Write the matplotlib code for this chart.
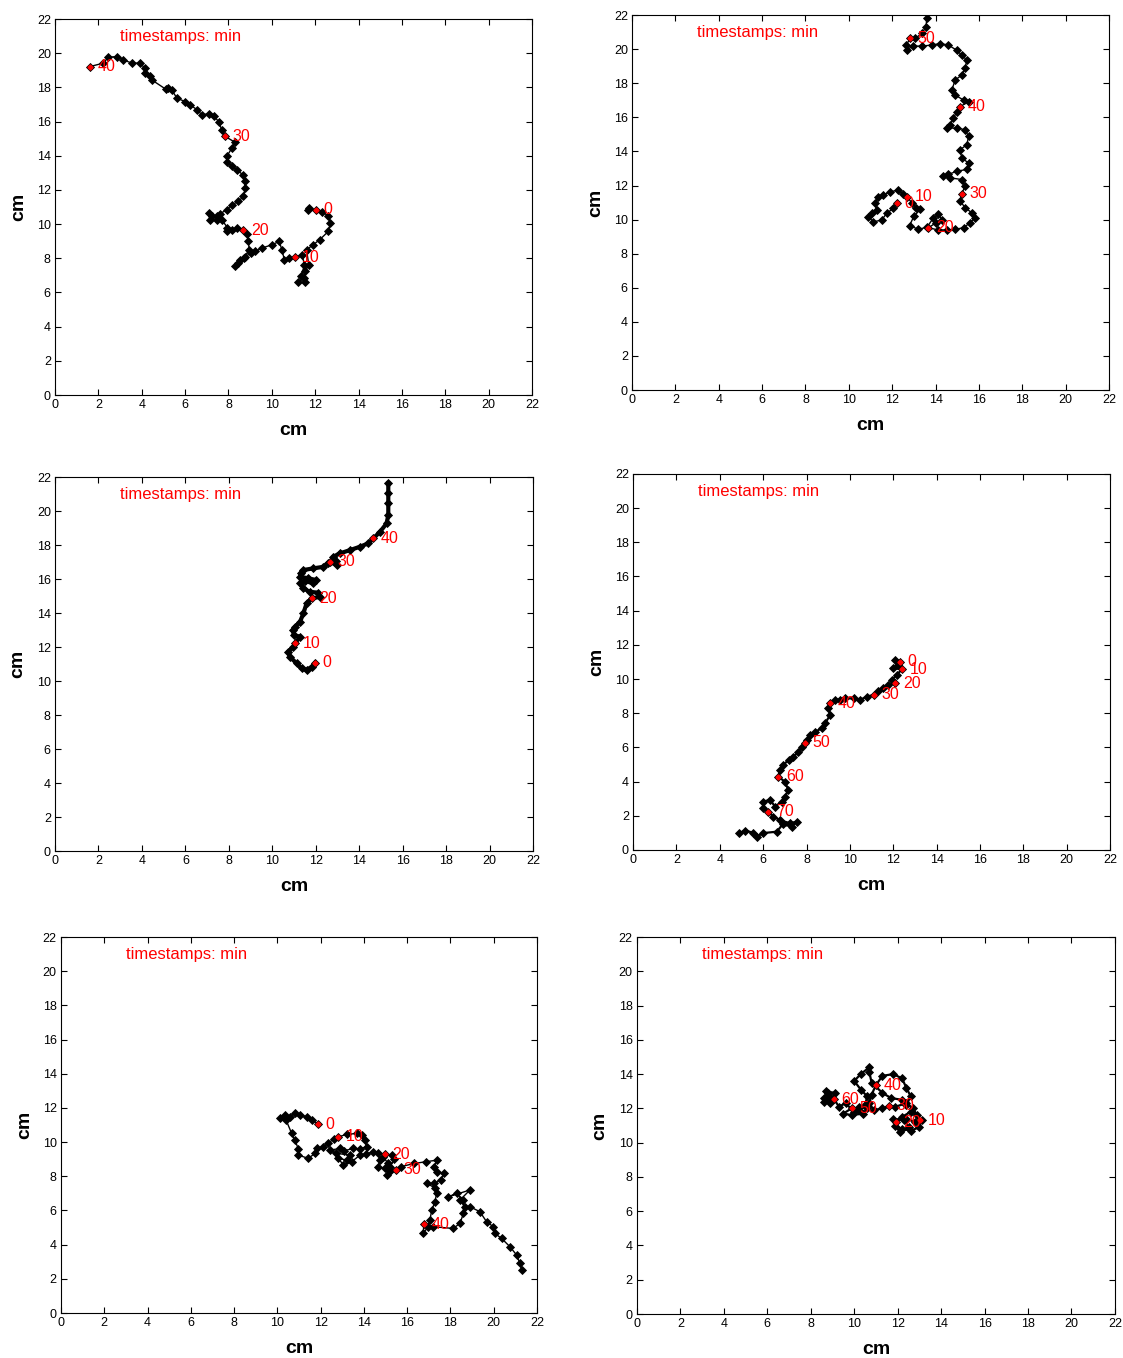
import numpy as np
import matplotlib.pyplot as plt

plt.rcParams['font.family'] = ['Liberation Sans', 'DejaVu Sans']

# ---- track 1 (top left) ----
x1 = [12.03, 11.65, 11.7, 12.3, 12.6, 12.7, 12.6, 12.2, 11.9, 11.6, 11.7, 11.54, 11.46, 11.2, 11.54,
      11.35, 11.5, 11.4, 11.05, 10.77, 10.58, 10.46, 10.34, 10.0, 9.54, 9.23, 9.03, 8.77, 8.54, 8.31,
      8.45, 8.7, 8.95, 8.92, 8.85, 8.69, 8.38, 8.15, 7.95, 7.95, 7.69, 7.45, 7.23, 7.08, 7.15, 7.45,
      7.6, 7.92, 8.15, 8.46, 8.69, 8.77, 8.74, 8.65, 8.38, 8.15, 7.92, 7.92, 8.15, 8.31, 7.85, 7.69,
      7.54, 7.35, 7.08, 6.77, 6.54, 6.23, 6.0, 5.62, 5.38, 5.23, 5.1, 4.46, 4.38, 4.15, 4.15, 3.92,
      3.54, 3.15, 2.85, 2.46, 2.23, 1.62]
y1 = [10.84, 10.8, 10.95, 10.7, 10.5, 10.06, 9.57, 9.08, 8.79, 8.5, 7.62, 7.23, 6.84, 6.59, 6.59,
      6.94, 7.6, 8.2, 8.07, 8.01, 7.91, 8.5, 8.99, 8.79, 8.6, 8.4, 8.3, 8.1, 7.9, 7.55,
      7.7, 8.0, 8.5, 9.03, 9.42, 9.63, 9.77, 9.67, 9.6, 9.8, 10.25, 10.45, 10.45, 10.64, 10.25, 10.25,
      10.6, 10.84, 11.13, 11.33, 11.62, 12.1, 12.5, 12.9, 13.18, 13.4, 13.66, 13.96, 14.44, 14.78, 15.13, 15.52,
      16.0, 16.3, 16.45, 16.4, 16.7, 16.98, 17.17, 17.37, 17.86, 17.95, 17.9, 18.44, 18.64, 18.83, 19.12, 19.42,
      19.42, 19.61, 19.8, 19.77, 19.42, 19.22]
t1_lab = ['0', '10', '20', '30', '40']
t1_x = [12.03, 11.05, 8.69, 7.85, 1.62]
t1_y = [10.84, 8.07, 9.63, 15.13, 19.22]

# ---- track 2 (top right) ----
x2 = [12.21, 12.05, 11.74, 11.51, 11.13, 10.9, 11.06, 11.28, 11.21, 11.36, 11.59, 11.9, 12.28, 12.5,
      12.67, 12.9, 13.1, 13.3, 13.0, 12.8, 13.2, 13.6, 13.9, 14.13, 14.3, 14.0, 13.67, 14.1, 14.52,
      14.9, 15.29, 15.59, 15.82, 15.67, 15.36, 15.13, 15.21, 15.36, 15.21, 14.67, 14.36, 14.59, 14.98,
      15.44, 15.52, 15.21, 15.13, 15.44, 15.52, 15.36, 14.98, 14.52, 14.67, 14.82, 14.98, 15.13, 15.52,
      15.29, 14.9, 14.75, 14.9, 15.21, 15.36, 15.44, 15.21, 14.97, 14.59, 14.21, 13.82, 13.36, 12.97,
      12.67, 12.64, 12.83, 13.06, 13.36, 13.56, 13.59]
y2 = [10.95, 10.66, 10.36, 9.97, 9.87, 10.17, 10.36, 10.56, 10.95, 11.34, 11.44, 11.63, 11.73, 11.5,
      11.34, 11.0, 10.7, 10.6, 10.2, 9.65, 9.43, 9.55, 10.1, 10.3, 10.0, 9.8, 9.52, 9.4, 9.39,
      9.43, 9.52, 9.82, 10.11, 10.4, 10.7, 11.09, 11.53, 11.96, 12.35, 12.45, 12.55, 12.65, 12.84,
      12.94, 13.32, 13.61, 14.1, 14.39, 14.88, 15.27, 15.37, 15.37, 15.56, 15.95, 16.34, 16.63, 16.92,
      17.01, 17.31, 17.6, 18.19, 18.48, 18.87, 19.36, 19.65, 19.94, 20.24, 20.33, 20.24, 20.18, 20.18,
      19.98, 20.24, 20.63, 20.63, 20.92, 21.31, 21.8]
t2_lab = ['0', '10', '20', '30', '40', '50']
t2_x = [12.21, 12.67, 13.67, 15.21, 15.13, 12.83]
t2_y = [10.95, 11.34, 9.52, 11.53, 16.63, 20.63]

# ---- track 3 (middle left) ----
x3 = [11.97, 11.82, 11.58, 11.35, 11.12, 10.81, 10.74, 10.97, 11.05, 11.28, 11.0, 10.94, 11.05, 11.28,
      11.43, 11.58, 11.81, 12.2, 12.1, 11.73, 11.43, 11.28, 11.5, 11.89, 12.0, 11.66, 11.28, 11.3,
      11.43, 11.89, 12.35, 12.58, 12.65, 12.96, 12.95, 12.8, 13.11, 13.57, 14.03, 14.42, 14.65, 14.96,
      15.26, 15.34, 15.34, 15.34, 15.34]
y3 = [11.08, 10.84, 10.65, 10.75, 11.04, 11.43, 11.73, 12.02, 12.22, 12.61, 12.7, 13.0, 13.2, 13.49,
      13.98, 14.57, 14.86, 14.96, 15.2, 15.25, 15.45, 15.74, 15.9, 15.74, 15.95, 16.04, 16.14, 16.35,
      16.53, 16.63, 16.72, 16.96, 17.02, 16.82, 17.05, 17.31, 17.51, 17.7, 17.9, 18.1, 18.39, 18.78,
      19.27, 19.76, 20.45, 21.04, 21.63]
t3_lab = ['0', '10', '20', '30', '40']
t3_x = [11.97, 11.05, 11.81, 12.65, 14.65]
t3_y = [11.08, 12.22, 14.86, 17.02, 18.39]

# ---- track 4 (middle right) ----
x4 = [12.32, 12.09, 12.2, 12.01, 12.4, 12.16, 11.93, 12.09, 11.78, 11.55, 11.3, 11.09, 10.78, 10.47,
      10.17, 9.79, 9.55, 9.32, 9.09, 9.01, 9.09, 8.86, 8.71, 8.4, 8.17, 8.01, 7.94, 7.78, 7.63, 7.4,
      7.17, 6.93, 6.78, 6.7, 7.01, 7.16, 7.01, 6.86, 6.55, 6.32, 6.01, 6.01, 6.24, 6.47, 6.78, 7.24,
      7.55, 7.32, 6.9, 6.63, 6.01, 5.7, 5.55, 5.17, 4.87]
y4 = [11.02, 11.12, 10.85, 10.63, 10.57, 10.24, 9.95, 9.75, 9.65, 9.46, 9.3, 9.07, 8.97, 8.78,
      8.87, 8.87, 8.8, 8.78, 8.58, 8.29, 7.9, 7.41, 7.12, 6.92, 6.73, 6.43, 6.28, 6.04, 5.75, 5.46,
      5.27, 4.97, 4.68, 4.29, 3.99, 3.51, 3.12, 2.83, 2.54, 2.93, 2.83, 2.44, 2.24, 1.95, 1.75, 1.56,
      1.66, 1.36, 1.5, 1.07, 0.99, 0.78, 1.01, 1.13, 0.97]
t4_lab = ['0', '10', '20', '30', '40', '50', '60', '70']
t4_x = [12.32, 12.4, 12.09, 11.09, 9.09, 7.94, 6.7, 6.24]
t4_y = [11.02, 10.57, 9.75, 9.07, 8.58, 6.28, 4.29, 2.24]

# ---- track 5 (bottom left) ----
x5 = [11.89, 11.6, 11.35, 11.04, 10.81, 10.58, 10.35, 10.12, 10.4, 10.66, 10.81, 10.97, 10.97, 11.43,
      11.74, 11.82, 12.12, 12.35, 12.6, 12.82, 13.2, 13.66, 13.89, 14.05, 14.12, 13.8, 13.51, 13.1,
      12.89, 12.43, 12.7, 13.35, 13.2, 12.82, 13.05, 13.43, 13.82, 14.1, 14.43, 14.66, 14.74, 14.66,
      14.97, 15.12, 14.89, 14.97, 15.28, 15.4, 15.2, 15.05, 15.2, 15.46, 15.7, 16.32, 16.85, 17.39,
      17.24, 17.39, 17.7, 17.55, 17.24, 16.93, 17.3, 17.36, 17.28, 17.13, 17.05, 16.97, 16.74, 16.77,
      17.2, 18.13, 18.44, 18.6, 18.6, 18.28, 17.9, 18.9, 18.44, 18.67, 18.9, 19.36, 19.67, 19.98,
      20.05, 20.36, 20.75, 21.06, 21.21, 21.3]
y5 = [11.06, 11.29, 11.49, 11.58, 11.68, 11.49, 11.58, 11.39, 11.3, 10.51, 10.12, 9.6, 9.24, 9.05,
      9.34, 9.63, 9.73, 9.92, 10.2, 10.31, 10.45, 10.51, 10.41, 10.12, 9.73, 9.6, 9.63, 9.5,
      9.63, 9.53, 9.35, 9.24, 8.95, 9.05, 8.66, 8.85, 9.24, 9.3, 9.44, 9.34, 8.95, 8.56,
      8.46, 8.75, 9.14, 9.3, 9.24, 9.0, 8.56, 8.07, 8.3, 8.37, 8.56, 8.75, 8.85, 8.95,
      8.56, 8.27, 8.17, 7.78, 7.58, 7.58, 7.3, 7.0, 6.5, 6.0, 5.44, 5.05, 4.66, 5.2,
      5.05, 4.95, 5.25, 5.83, 6.6, 7.0, 6.8, 7.2, 6.61, 6.22, 6.22, 5.93, 5.34, 5.05,
      4.66, 4.37, 3.88, 3.39, 2.9, 2.51]
t5_lab = ['0', '10', '20', '30', '40']
t5_x = [11.89, 12.82, 14.97, 15.46, 16.77]
t5_y = [11.06, 10.31, 9.3, 8.37, 5.2]

# ---- track 6 (bottom right) ----
x6 = [12.4, 12.8, 13.1, 13.0, 12.6, 12.2, 11.9, 12.1, 12.5, 12.3, 11.8, 11.92, 12.2, 12.6, 12.9,
      12.7, 12.4, 11.9, 11.61, 11.3, 10.9, 10.7, 10.8, 11.0, 11.3, 11.8, 12.2, 12.4, 12.6, 12.4,
      12.2, 11.7, 11.3, 10.8, 10.7, 10.7, 10.3, 10.0, 10.3, 10.6, 10.5, 10.2, 9.88, 9.5, 9.9,
      10.4, 10.6, 10.2, 10.0, 9.6, 9.3, 9.07, 8.8, 8.6, 8.9, 9.1, 8.7, 8.9, 8.6, 8.8]
y6 = [11.4, 11.2, 11.32, 10.9, 10.7, 10.8, 11.0, 10.6, 10.9, 11.3, 11.4, 11.18, 11.5, 11.8, 11.6,
      12.0, 12.3, 12.1, 12.14, 12.0, 11.9, 12.3, 12.8, 13.36, 13.9, 14.0, 13.75, 13.2, 12.7, 12.2,
      12.5, 12.6, 12.9, 13.5, 14.1, 14.4, 14.0, 13.6, 13.1, 12.7, 12.2, 11.9, 12.0, 11.7, 11.6,
      11.7, 12.0, 12.1, 11.8, 12.3, 12.1, 12.53, 12.8, 12.6, 12.3, 12.9, 13.0, 12.6, 12.4, 12.9]
t6_lab = ['10', '20', '30', '40', '50', '60']
t6_x = [13.02, 11.92, 11.61, 11.0, 9.88, 9.07]
t6_y = [11.32, 11.18, 12.14, 13.36, 12.0, 12.53]

tracks = [
    (x1, y1, t1_lab, t1_x, t1_y, [0.049, 0.7091, 0.4248, 0.2769], 1.0),
    (x2, y2, t2_lab, t2_x, t2_y, [0.5628, 0.7128, 0.4248, 0.2761], 1.0),
    (x3, y3, t3_lab, t3_x, t3_y, [0.049, 0.3733, 0.4256, 0.2754], 3.0),
    (x4, y4, t4_lab, t4_x, t4_y, [0.5637, 0.3741, 0.4248, 0.2769], 1.6),
    (x5, y5, t5_lab, t5_x, t5_y, [0.0543, 0.0331, 0.4239, 0.2769], 1.0),
    (x6, y6, t6_lab, t6_x, t6_y, [0.5672, 0.0324, 0.4256, 0.2776], 1.6),
]

fig = plt.figure(figsize=(11.23, 13.58), dpi=100)
ticks = np.arange(0, 23, 2)

for xs, ys, labs, tx, ty, pos, lw in tracks:
    ax = fig.add_axes(pos)
    ax.plot(xs, ys, color='black', lw=lw, marker='D', markersize=3.6, markeredgewidth=0.6)
    ax.plot(tx, ty, ls='none', marker='D', markersize=2.6, color='red', zorder=3)
    for lab, px, py in zip(labs, tx, ty):
        ax.text(px + 0.35, py, lab, color='red', fontsize=11.5, va='center', ha='left')
    ax.text(3.0, 21.0, 'timestamps: min', color='red', fontsize=12, va='center', ha='left')

    ax.set_xlim(0, 22)
    ax.set_ylim(0, 22)
    ax.set_xticks(ticks)
    ax.set_yticks(ticks)
    ax.tick_params(direction='in', top=True, right=True, length=4, width=0.8,
                   labelsize=9, pad=3)
    for s in ax.spines.values():
        s.set_linewidth(0.8)
    ax.set_xlabel('cm', fontsize=14, fontweight='bold', va='center')
    ax.set_ylabel('cm', fontsize=14, fontweight='bold', va='center')
    ax.xaxis.set_label_coords(0.5, -0.095)
    ax.yaxis.set_label_coords(-0.077, 0.5)

fig.savefig('out.png', dpi=100)
